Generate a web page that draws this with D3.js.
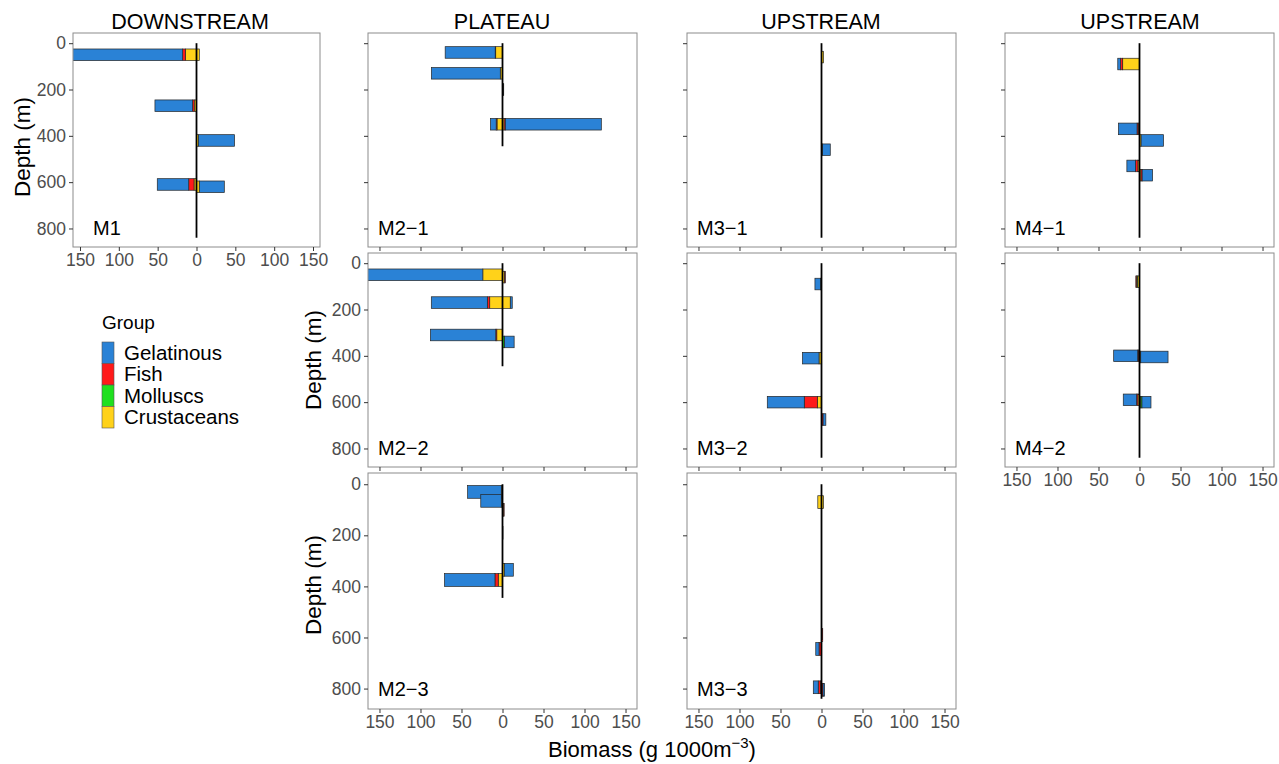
<!DOCTYPE html>
<html>
<head>
<meta charset="utf-8">
<script src="https://cdn.jsdelivr.net/npm/d3@7"></script>
<style>
  body { margin: 0; background: #fff; }
  text { font-family: "Liberation Sans", Arial, sans-serif; }
</style>
</head>
<body>
<div id="chart"></div>
<script>
// == DATA ==
var groups = ["Gelatinous", "Fish", "Molluscs", "Crustaceans"];
var groupColors = ["#2a82d6", "#ff1a1a", "#1fe01f", "#ffd21a"];

var stations = ["M1", "M2-1", "M2-2", "M2-3", "M3-1", "M3-2", "M3-3", "M4-1", "M4-2"];
var stationLineDepth = [840, 445, 445, 445, 840, 840, 840, 840, 840];
var regionTitles = ["DOWNSTREAM", "PLATEAU", "UPSTREAM", "UPSTREAM"];

var xTicks = [-150, -100, -50, 0, 50, 100, 150];
var yTicks = [0, 200, 400, 600, 800];

// one entry per bar; negative values sit left of zero
var barStation = ["M1", "M1", "M1", "M1", "M1", "M1",
  "M2-1", "M2-1", "M2-1", "M2-1", "M2-1",
  "M2-2", "M2-2", "M2-2", "M2-2", "M2-2", "M2-2",
  "M2-3", "M2-3", "M2-3", "M2-3", "M2-3", "M2-3",
  "M3-1", "M3-1",
  "M3-2", "M3-2", "M3-2", "M3-2",
  "M3-3", "M3-3", "M3-3", "M3-3", "M3-3", "M3-3",
  "M4-1", "M4-1", "M4-1", "M4-1", "M4-1",
  "M4-2", "M4-2", "M4-2", "M4-2", "M4-2"];
var barDepth = [50, 50, 270, 420, 610, 620,
  40, 130, 200, 350, 350,
  50, 60, 170, 170, 310, 340,
  30, 65, 100, 190, 335, 375,
  60, 460,
  90, 410, 600, 675,
  70, 70, 590, 645, 795, 805,
  90, 370, 420, 530, 570,
  80, 400, 405, 590, 600];
var gelatinous = [-150, 0, -48.5, 46.5, -40.5, 32.2,
  -61, -84, 0.3, -7, 117,
  -150, 0, -68.3, 2.4, -79.7, 11.7,
  -41, -25, 0, 0, 11, -61.5,
  0, 9.5,
  -7, -20.2, -45.1, 3.3,
  0, 0, 0, -4, -6, 2,
  -3.5, -22.7, 27.3, -10.5, 12.7,
  0, -29.3, 33.3, -16.3, 11];
var fish = [-3.4, 0, -2, 0, -6.8, 0,
  -0.6, 0, 0, -1, 1.5,
  0, 1, -2.9, 0, -1.2, 0,
  0, 0, 0.5, 0, 0, -4,
  0, 0,
  0, 0, -15.9, 1.5,
  0, 0, 1, -3, -3, 1.8,
  -2.5, -1.5, 0, -2.9, 1.5,
  -1, -1, 0, -1.5, 0];
var molluscs = [0, 0, 0, 0, 0, 0,
  0, 0, 0, 0, 0,
  0, 0, 0, 0, 0, 2.5,
  0, 0, 0, 0, 0, 0,
  0, 0,
  0, 0, 0, 0,
  0, 0, 0, 0, 0, 0,
  0, 0, 0, 0, 0,
  -1, 0, 0, 0, 1.5];
var crustaceans = [-14.4, 3.6, -3, 2.5, -3.2, 3.6,
  -8.3, -2.7, 1.2, -6.7, 2,
  -24, 2.5, -15.6, 9.5, -7, 0,
  -1.5, -1.5, 1.5, 0.6, 2.2, -5.2,
  2.5, 1.2,
  -1, -3, -5.1, 0.5,
  -4.5, 2.5, 0.5, 0, -1, 0,
  -20.5, -1.5, 2, -2, 1.8,
  -2.5, -1.2, 1.5, -2, 1.5];

var barHalf = 25; // metres above / below the sample depth

// == LAYOUT ==
var W = 1279, H = 764;
var panels = {
  "M1":   { x: 73,   y: 33,  w: 247, h: 214, xMax: 159, lab: 20, yLab: true,  xLab: true },
  "M2-1": { x: 368,  y: 33,  w: 269, h: 214, xMax: 164, lab: 10, yLab: false, xLab: false },
  "M2-2": { x: 368,  y: 253, w: 269, h: 214, xMax: 164, lab: 10, yLab: true,  xLab: false },
  "M2-3": { x: 368,  y: 473, w: 269, h: 236, xMax: 164, lab: 10, yLab: true,  xLab: true },
  "M3-1": { x: 687,  y: 33,  w: 269, h: 214, xMax: 164, lab: 10, yLab: false, xLab: false },
  "M3-2": { x: 687,  y: 253, w: 269, h: 214, xMax: 164, lab: 10, yLab: false, xLab: false },
  "M3-3": { x: 687,  y: 473, w: 269, h: 236, xMax: 164, lab: 10, yLab: false, xLab: true },
  "M4-1": { x: 1005, y: 33,  w: 269, h: 214, xMax: 164, lab: 10, yLab: false, xLab: false },
  "M4-2": { x: 1005, y: 253, w: 269, h: 214, xMax: 164, lab: 10, yLab: false, xLab: true }
};

var svg = d3.select("#chart").append("svg")
  .attr("width", W).attr("height", H)
  .style("display", "block");
svg.append("rect").attr("width", W).attr("height", H).attr("fill", "#fff");

var color = d3.scaleOrdinal().domain(groups).range(groupColors);
var stackOrder = ["Crustaceans", "Molluscs", "Fish", "Gelatinous"]; // nearest zero first

stations.forEach(function(st, si) {
  var p = panels[st];
  var xs = d3.scaleLinear().domain([-p.xMax, p.xMax]).range([0, p.w]);
  var ys = d3.scaleLinear().domain([-44, 880]).range([0, p.h]);

  var g = svg.append("g").attr("transform", "translate(" + p.x + "," + p.y + ")");

  var clipId = "clip" + si;
  g.append("clipPath").attr("id", clipId)
    .append("rect").attr("width", p.w).attr("height", p.h);

  var rows = [];
  barStation.forEach(function(s, i) {
    if (s !== st) return;
    rows.push({ depth: barDepth[i], Gelatinous: gelatinous[i], Fish: fish[i],
                Molluscs: molluscs[i], Crustaceans: crustaceans[i] });
  });

  var series = d3.stack().keys(stackOrder).offset(d3.stackOffsetDiverging)(rows);

  var barsG = g.append("g").attr("clip-path", "url(#" + clipId + ")");
  series.forEach(function(s) {
    barsG.selectAll(null)
      .data(s.filter(function(d) { return d[1] - d[0] !== 0; }))
      .enter().append("rect")
      .attr("x", function(d) { return xs(Math.min(d[0], d[1])); })
      .attr("width", function(d) { return Math.abs(xs(d[1]) - xs(d[0])); })
      .attr("y", function(d) { return ys(d.data.depth - barHalf); })
      .attr("height", function(d) { return ys(d.data.depth + barHalf) - ys(d.data.depth - barHalf); })
      .attr("fill", color(s.key))
      .attr("stroke", "#262626")
      .attr("stroke-width", 0.7);
  });

  // zero line
  barsG.append("line")
    .attr("x1", xs(0)).attr("x2", xs(0))
    .attr("y1", ys(0)).attr("y2", ys(stationLineDepth[si]))
    .attr("stroke", "#000").attr("stroke-width", 1.8);

  // panel border
  g.append("rect").attr("width", p.w).attr("height", p.h)
    .attr("fill", "none").attr("stroke", "#8c8c8c").attr("stroke-width", 1);

  // axes
  var yAxis = d3.axisLeft(ys).tickValues(yTicks).tickSize(4).tickPadding(3);
  if (!p.yLab) yAxis.tickFormat("");
  var ya = g.append("g").call(yAxis);
  var xAxis = d3.axisBottom(xs).tickValues(xTicks).tickSize(4).tickPadding(3)
    .tickFormat(function(d) { return Math.abs(d); });
  if (!p.xLab) xAxis.tickFormat("");
  var xa = g.append("g").attr("transform", "translate(0," + p.h + ")").call(xAxis);
  [ya, xa].forEach(function(a) {
    a.select(".domain").remove();
    a.selectAll("line").attr("stroke", "#333");
    a.selectAll("text").attr("fill", "#4d4d4d")
      .style("font-size", "17.5px")
      .style("font-family", "'Liberation Sans', Arial, sans-serif");
  });

  // station label
  g.append("text")
    .attr("x", p.lab).attr("y", ys(800) + 7)
    .style("font-size", "20px").attr("fill", "#000")
    .text(st.replace("-", "\u2212"));
});

// column titles
var titleX = [190, 502, 821, 1140];
regionTitles.forEach(function(t, i) {
  svg.append("text").attr("x", titleX[i]).attr("y", 29)
    .attr("text-anchor", "middle").style("font-size", "21.5px").text(t);
});

// y axis titles
[[22, 147], [313, 360], [313, 585]].forEach(function(pt) {
  svg.append("text")
    .attr("transform", "translate(" + (pt[0] + 8) + "," + pt[1] + ") rotate(-90)")
    .attr("text-anchor", "middle").style("font-size", "22.5px").text("Depth (m)");
});

// x axis title
var xt = svg.append("text").attr("x", 652).attr("y", 757)
  .attr("text-anchor", "middle").style("font-size", "22px");
xt.append("tspan").text("Biomass (g 1000m");
xt.append("tspan").attr("dy", -9).style("font-size", "15px").text("\u22123");
xt.append("tspan").attr("dy", 9).text(")");

// legend
var lg = svg.append("g").attr("transform", "translate(102,318)");
lg.append("text").attr("x", 0).attr("y", 11).style("font-size", "19px").text("Group");
groups.forEach(function(gr, i) {
  lg.append("rect").attr("x", 0).attr("y", 24 + i * 21.5)
    .attr("width", 12).attr("height", 21.5)
    .attr("fill", color(gr)).attr("stroke", "#555").attr("stroke-width", 0.6);
  lg.append("text").attr("x", 22).attr("y", 24 + i * 21.5 + 17.5)
    .style("font-size", "20.5px").text(gr);
});
</script>
</body>
</html>
